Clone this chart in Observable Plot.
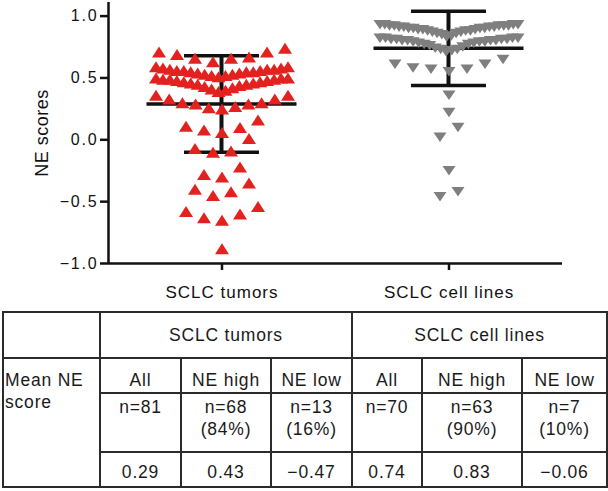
<!DOCTYPE html>
<html>
<head>
<meta charset="utf-8">
<script src="https://cdn.jsdelivr.net/npm/d3@7"></script>
<script src="https://cdn.jsdelivr.net/npm/@observablehq/plot@0.6"></script>
<style>
html, body { margin: 0; padding: 0; background: #fff; }
#wrap { position: relative; width: 608px; height: 491px; font-family: "Liberation Sans", Arial, sans-serif; color: #1a1a1a; }
#chart svg { display: block; }
g[aria-label="y-axis tick label"] text { letter-spacing: 1.8px; }
g[aria-label="fx-axis tick label"] text { letter-spacing: 1px; }
g[aria-label="y-axis label"] text { font-size: 18px; letter-spacing: 0.5px; }
#tbl { position: absolute; left: 2px; top: 311px; border-collapse: collapse; table-layout: fixed; width: 604px;
  font-size: 17.5px; letter-spacing: 0.8px; line-height: 22px; color: #1a1a1a; }
#tbl td { border: 2px solid #2b2b2b; text-align: center; vertical-align: top; padding: 0; white-space: nowrap; overflow: hidden; }
#tbl tr.r1 td { padding-top: 11px; padding-bottom: 11px; }
#tbl tr.r2 td { padding-top: 10px; padding-bottom: 1px; }
#tbl tr.r3 td { padding-top: 2px; padding-bottom: 11px; }
#tbl tr.r4 td { padding-top: 8px; padding-bottom: 3px; }
#tbl td.rowlab { text-align: left; padding-left: 1px; }
</style>
</head>
<body>
<div id="wrap">
  <div id="chart"></div>
  <table id="tbl"></table>
</div>
<script>
// ---------- data ----------
const groups = ["SCLC tumors", "SCLC cell lines"];

const tumorScores = [
  -0.88, -0.65, -0.63, -0.60, -0.58, -0.54, -0.45, -0.42, -0.40, -0.35, -0.30, -0.28, -0.22,
  -0.10, -0.09, -0.07, 0.01, 0.06, 0.08, 0.10, 0.11, 0.16,
  0.25, 0.26, 0.27, 0.29, 0.29, 0.30, 0.30, 0.33, 0.33, 0.36, 0.36,
  0.39, 0.40, 0.41, 0.42, 0.43, 0.44, 0.45, 0.45, 0.46, 0.46,
  0.47, 0.47, 0.48, 0.48, 0.49, 0.49, 0.49, 0.50, 0.50, 0.50,
  0.51, 0.52, 0.52, 0.53, 0.53, 0.54, 0.54, 0.55, 0.55, 0.55,
  0.56, 0.56, 0.56, 0.57, 0.57, 0.57, 0.58, 0.58, 0.59, 0.59,
  0.63, 0.66, 0.66, 0.67, 0.69, 0.71, 0.71, 0.74
];

const cellLineScores = [
  -0.46, -0.42, -0.25, 0.02, 0.10, 0.22, 0.36,
  0.55, 0.57, 0.57, 0.58, 0.61, 0.61, 0.65,
  0.71, 0.72, 0.73, 0.73, 0.74, 0.75, 0.76, 0.77, 0.77, 0.78, 0.78, 0.79, 0.79,
  0.79, 0.80, 0.80, 0.80, 0.80, 0.81, 0.81, 0.81, 0.81, 0.82, 0.82, 0.82, 0.82,
  0.83, 0.84, 0.85, 0.86, 0.86, 0.87, 0.87, 0.88, 0.88, 0.88, 0.89, 0.89, 0.89,
  0.90, 0.90, 0.90, 0.90, 0.91, 0.91, 0.91, 0.91, 0.92, 0.92, 0.92, 0.92, 0.92,
  0.93, 0.93, 0.93, 0.93
];

const groupMeans = [0.29, 0.74];
const groupSDs = [0.39, 0.30];
const yTicks = [-1, -0.5, 0, 0.5, 1];

// table
const rowLabel = ["Mean NE", "score"];
const subgroups = ["All", "NE high", "NE low"];
const nLabels = [["n=81"], ["n=68", "(84%)"], ["n=13", "(16%)"], ["n=70"], ["n=63", "(90%)"], ["n=7", "(10%)"]];
const meanScores = [0.29, 0.43, -0.47, 0.74, 0.83, -0.06];

// ---------- scatter-dot layout (rows of nearby values, spread centre-out) ----------
const facetHalf = (608 - 108 - 46) / 4;   // half the width of one category band, px
function rowSpread(values, rowSpan, maxStep, maxWidth) {
  const order = d3.sort(d3.range(values.length), i => values[i]);
  const off = new Array(values.length).fill(0);
  let k = 0;
  while (k < order.length) {
    const start = values[order[k]];
    let end = k;
    while (end < order.length && values[order[end]] < start + rowSpan) end++;
    const row = order.slice(k, end), n = row.length;
    const step = n > 1 ? Math.min(maxStep, maxWidth / (n - 1)) : 0;
    row.forEach((i, j) => {
      const slot = n % 2
        ? (j === 0 ? 0 : (j % 2 ? -1 : 1) * Math.ceil(j / 2))
        : (j % 2 ? 1 : -1) * (Math.floor(j / 2) + 0.5);
      off[i] = slot * step;
    });
    k = end;
  }
  return off;
}
const tumorOff = rowSpread(tumorScores, 0.12, 18, 132);
const cellOff = rowSpread(cellLineScores, 0.12, 18, 138);
const tumorData = tumorScores.map((score, i) => ({group: groups[0], score, off: tumorOff[i]}));
const cellData = cellLineScores.map((score, i) => ({group: groups[1], score, off: cellOff[i]}));
const summary = groups.map((group, i) => ({group, mean: groupMeans[i], sd: groupSDs[i]}));

// triangle symbols
const triUp = {
  draw(ctx, size) {
    const r = Math.sqrt(size / Math.PI), w = 1.4 * r, h = 1.1 * r;
    ctx.moveTo(0, -h); ctx.lineTo(w, h); ctx.lineTo(-w, h); ctx.closePath();
  }
};
const triDown = {
  draw(ctx, size) {
    const r = Math.sqrt(size / Math.PI), w = 1.3 * r, h = 0.95 * r;
    ctx.moveTo(0, h); ctx.lineTo(w, -h); ctx.lineTo(-w, -h); ctx.closePath();
  }
};

const ink = "#111";
const plot = Plot.plot({
  width: 608,
  height: 306,
  marginLeft: 108,
  marginRight: 46,
  marginTop: 2,
  marginBottom: 43,
  style: {fontFamily: "'Liberation Sans', Arial, sans-serif", fontSize: "16px", color: ink, background: "#fff"},
  fx: {domain: groups, padding: 0, label: null},
  x: {domain: [-facetHalf, facetHalf], axis: null},
  y: {domain: [-1, 1.11]},
  marks: [
    Plot.axisY(yTicks, {tickSize: 8, tickPadding: 2, tickFormat: d3.format(".1f"), strokeWidth: 2.5,
      fontSize: 16, label: "NE scores", labelArrow: "none", labelAnchor: "center", labelOffset: 73}),
    Plot.axisFx({anchor: "bottom", tickSize: 7, tickPadding: 15, strokeWidth: 2.5, fontSize: 17, label: null}),
    Plot.ruleY([-1], {strokeWidth: 2.5, stroke: ink}),
    Plot.ruleX([groups[0]], {fx: d => d, x: () => -facetHalf, strokeWidth: 2.5, stroke: ink}),
    // error bars: mean +/- SD
    Plot.rect(summary, {fx: "group", y1: d => d.mean - d.sd, y2: d => d.mean + d.sd,
      insetLeft: 111.5, insetRight: 111.5, fill: ink}),
    Plot.ruleY(summary, {fx: "group", y: "mean", insetLeft: 38.5, insetRight: 38.5, strokeWidth: 3.5, stroke: ink}),
    Plot.ruleY(summary, {fx: "group", y: d => d.mean + d.sd, insetLeft: 76, insetRight: 76, strokeWidth: 3.5, stroke: ink}),
    Plot.ruleY(summary, {fx: "group", y: d => d.mean - d.sd, insetLeft: 76, insetRight: 76, strokeWidth: 3.5, stroke: ink}),
    // points
    Plot.dot(tumorData, {fx: "group", x: "off", y: "score", r: 5, symbol: triUp, fill: "#e3221f", stroke: "none"}),
    Plot.dot(cellData, {fx: "group", x: "off", y: "score", r: 5, symbol: triDown, fill: "#7f7f7f", stroke: "none"})
  ]
});
document.getElementById("chart").appendChild(plot);

// ---------- table ----------
const fmt = d3.format(".2f");
const tbl = d3.select("#tbl");
const colWidths = [97, 81, 90, 81, 70, 100, 85];
tbl.append("colgroup").selectAll("col").data(colWidths).join("col").style("width", d => d + "px");
const r1 = tbl.append("tr").attr("class", "r1");
r1.append("td");
groups.forEach(g => r1.append("td").attr("colspan", 3).text(g));
const r2 = tbl.append("tr").attr("class", "r2");
r2.append("td").attr("rowspan", 3).attr("class", "rowlab").html(rowLabel.join("<br>"));
groups.forEach(() => subgroups.forEach(s => r2.append("td").text(s)));
const r3 = tbl.append("tr").attr("class", "r3");
nLabels.forEach(lines => r3.append("td").html(lines.join("<br>")));
const r4 = tbl.append("tr").attr("class", "r4");
meanScores.forEach(v => r4.append("td").text(fmt(v)));
</script>
</body>
</html>
